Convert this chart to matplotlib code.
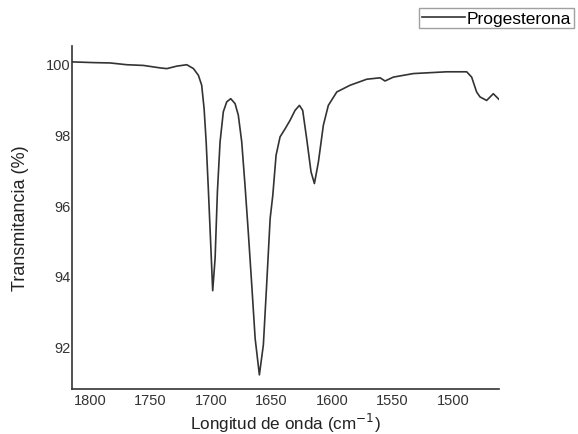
import matplotlib
matplotlib.use("Agg")
import matplotlib.pyplot as plt

# wavenumber (cm-1) and transmittance (%)
wavenumber = [1814.6, 1797.3, 1783.5, 1769.7, 1756.0, 1742.1, 1736.6, 1728.4, 1720.1,
              1714.6, 1710.5, 1707.8, 1705.8, 1704.1, 1702.2, 1700.3, 1698.7, 1696.7,
              1694.8, 1692.6, 1689.9, 1687.1, 1683.8, 1680.2, 1677.5, 1674.7, 1672.0,
              1669.3, 1666.4, 1663.6, 1660.1, 1656.8, 1654.1, 1651.2, 1649.0, 1646.3,
              1643.0, 1638.8, 1634.7, 1630.6, 1627.0, 1624.3, 1621.0, 1617.4, 1614.6,
              1611.3, 1607.2, 1603.1, 1596.1, 1585.1, 1571.3, 1560.3, 1556.2, 1549.3,
              1532.8, 1516.3, 1505.3, 1488.7, 1484.6, 1480.5, 1477.7, 1472.2, 1466.7,
              1462.0]
transmittance = [100.05, 100.03, 100.02, 99.97, 99.95, 99.88, 99.86, 99.93, 99.97,
                 99.86, 99.67, 99.39, 98.73, 97.79, 96.38, 94.87, 93.58, 94.50,
                 96.38, 97.79, 98.64, 98.92, 99.01, 98.87, 98.54, 97.79, 96.57,
                 95.25, 93.74, 92.23, 91.20, 92.05, 93.74, 95.62, 96.28, 97.41,
                 97.93, 98.16, 98.40, 98.68, 98.82, 98.68, 97.88, 96.94, 96.61,
                 97.22, 98.26, 98.82, 99.20, 99.39, 99.56, 99.60, 99.51, 99.62,
                 99.72, 99.75, 99.77, 99.77, 99.62, 99.20, 99.06, 98.96, 99.15,
                 98.99]

plt.rcParams["font.family"] = ["Liberation Sans", "DejaVu Sans"]

fig = plt.figure(figsize=(5.78, 4.35), dpi=100)
ax = fig.add_axes([0.1246, 0.1034, 0.7387, 0.7886])

line, = ax.plot(wavenumber, transmittance, color="#333333", linewidth=1.2,
                label="Progesterona", solid_joinstyle="round")

ax.set_xlim(1815, 1462)
ax.set_ylim(90.8, 100.5)
ax.set_xticks([1800, 1750, 1700, 1650, 1600, 1550, 1500])
ax.set_yticks([92, 94, 96, 98, 100])

for side in ["top", "right"]:
    ax.spines[side].set_visible(False)
for side in ["left", "bottom"]:
    ax.spines[side].set_color("#333333")
    ax.spines[side].set_linewidth(1.2)

ax.tick_params(axis="both", length=0, labelsize=10.5, colors="#333333")
ax.tick_params(axis="y", pad=1)
ax.tick_params(axis="x", pad=3)

ax.set_xlabel("Longitud de onda (cm$^{-1}$)", fontsize=12.3, color="#222222", labelpad=3)
ax.set_ylabel("Transmitancia (%)", fontsize=13, color="#222222", labelpad=12)

leg = fig.legend(handles=[line], loc="upper left", bbox_to_anchor=(0.725, 0.979),
                 fontsize=12.5, frameon=True, fancybox=False, handlelength=2.5,
                 handletextpad=0.1, borderpad=0.15, borderaxespad=0)
leg.get_frame().set_edgecolor("#888888")
leg.get_frame().set_linewidth(1.0)

fig.savefig("out.png", dpi=100)
